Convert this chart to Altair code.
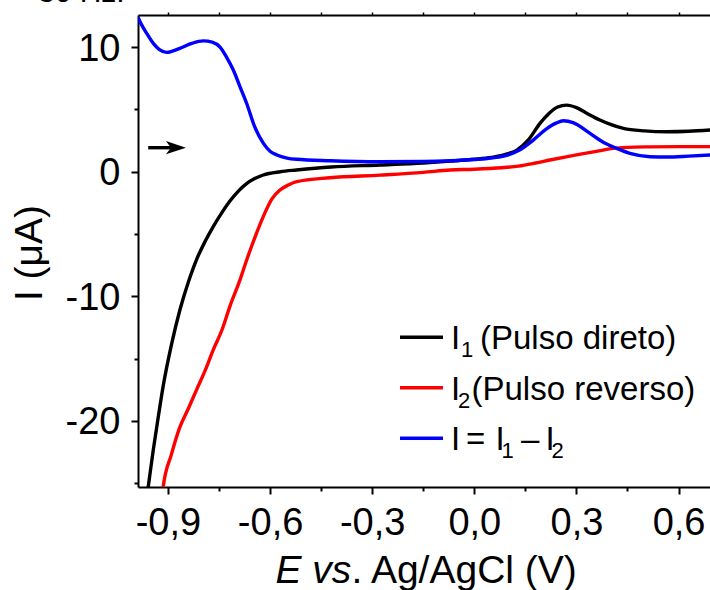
import altair as alt
import pandas as pd

# ---------------- data ----------------
E_I1 = [-0.962, -0.958, -0.943, -0.928, -0.914, -0.889, -0.865, -0.840, -0.816, -0.791,
        -0.767, -0.742, -0.718, -0.693, -0.669, -0.645, -0.620, -0.570, -0.522, -0.420, -0.277,
        -0.150, -0.070, 0.000, 0.050, 0.100, 0.125, 0.160, 0.193, 0.220, 0.245,
        0.271, 0.300, 0.330, 0.369, 0.400, 0.438, 0.500, 0.565, 0.630, 0.700]
I1 = [-26.1, -25.3, -22.3, -19.6, -17.2, -13.8, -11.1, -8.85, -7.05, -5.6,
      -4.4, -3.3, -2.35, -1.55, -0.95, -0.55, -0.26, 0.0, 0.14, 0.38, 0.54,
      0.70, 0.85, 1.00, 1.15, 1.45, 1.74, 2.6, 3.88, 4.7, 5.2,
      5.35, 5.15, 4.7, 4.15, 3.8, 3.48, 3.28, 3.21, 3.25, 3.37]

E_I2 = [-0.918, -0.914, -0.890, -0.865, -0.840, -0.816, -0.790, -0.767, -0.740, -0.718,
        -0.690, -0.669, -0.645, -0.620, -0.595, -0.571, -0.545, -0.522, -0.424, -0.277,
        -0.150, -0.071, 0.000, 0.080, 0.130, 0.180, 0.222, 0.270, 0.320, 0.370,
        0.408, 0.450, 0.516, 0.600, 0.700]
I2 = [-27.5, -25.3, -22.7, -20.5, -19.0, -17.5, -15.9, -14.3, -12.6, -10.8,
      -8.8, -7.1, -5.3, -3.6, -2.2, -1.47, -1.05, -0.8, -0.48, -0.27,
      -0.05, 0.14, 0.20, 0.32, 0.45, 0.70, 0.94, 1.2, 1.45, 1.7,
      1.88, 1.96, 2.0, 2.02, 2.02]

E_I = [-0.988, -0.982, -0.960, -0.943, -0.925, -0.904, -0.885, -0.865, -0.830, -0.796,
       -0.770, -0.747, -0.728, -0.708, -0.688, -0.669, -0.645, -0.620, -0.600, -0.580,
       -0.550, -0.522, -0.424, -0.277, -0.150, -0.070, 0.000, 0.050, 0.100, 0.130,
       0.173, 0.210, 0.240, 0.262, 0.290, 0.340, 0.380, 0.418, 0.460, 0.516,
       0.565, 0.630, 0.700]
I_diff = [12.4, 12.04, 11.0, 10.3, 9.8, 9.58, 9.7, 9.9, 10.3, 10.5,
          10.4, 10.0, 9.2, 8.16, 6.8, 5.5, 3.6, 2.3, 1.65, 1.35,
          1.1, 1.0, 0.88, 0.80, 0.82, 0.88, 0.98, 1.1, 1.35, 1.7,
          2.54, 3.4, 3.9, 4.09, 3.95, 3.08, 2.35, 1.88, 1.45, 1.2,
          1.18, 1.25, 1.35]

series_names = ["I1", "I2", "I"]
series_colors = ["#000000", "#ff0000", "#0000ff"]

arrow_E = [-0.958, -0.872]
arrow_I = [1.93, 1.93]
arrow_head_E = [-0.8765]
arrow_head_I = [1.93]

x_tick_values = [-0.9, -0.75, -0.6, -0.45, -0.3, -0.15, 0.0, 0.15, 0.3, 0.45, 0.6]
y_tick_values = [-25, -20, -15, -10, -5, 0, 5, 10]

x_title_italic = "E vs"
x_title_rest = ". Ag/AgCl (V)"
y_title = "I (μA)"
top_note = "30 Hz."

legend_main = ["I", "I", "I"]
legend_sub1 = ["1", "2", "1"]
legend_tail = ["(Pulso direto)", "(Pulso reverso)"]

FONT = "Liberation Sans"

# ---------------- build table ----------------
frames = []
for name, xs, ys in zip(series_names, [E_I1, E_I2, E_I], [I1, I2, I_diff]):
    frames.append(pd.DataFrame({"E": xs, "I": ys, "serie": name}))
df = pd.concat(frames, ignore_index=True)
df["ord"] = df["serie"].map({n: i for i, n in enumerate(series_names)})

xscale = alt.Scale(domain=[-0.988, 0.6924], nice=False, zero=False)
yscale = alt.Scale(domain=[-25.3, 12.58], nice=False, zero=False)

x_label_expr = ("round(datum.value*100) % 30 == 0 ? "
                "(datum.value < -0.001 ? '-' : '') + replace(format(abs(datum.value), '.1f'), '.', ',') : ''")
y_label_expr = ("datum.value % 10 == 0 ? "
                "(datum.value < 0 ? '-' + toString(abs(datum.value)) : toString(datum.value)) : ''")

common_axis = dict(
    domainColor="black", domainWidth=2, tickColor="black", tickWidth=2,
    labelFont=FONT, labelFontSize=38, labelColor="black", grid=False, title=None,
    labelFlush=False, labelOverlap=False,
)

x_axis = alt.Axis(
    values=x_tick_values, labelExpr=x_label_expr, orient="bottom",
    tickSize={"condition": {"test": "round(datum.value*100) % 30 == 0", "value": 7}, "value": 4},
    labelPadding=10, **common_axis,
)
top_axis = alt.Axis(
    values=x_tick_values, labels=False, orient="top", tickSize=3,
    domainColor="black", domainWidth=2, tickColor="black", tickWidth=1.5, grid=False, title=None,
)
y_axis = alt.Axis(
    values=y_tick_values, labelExpr=y_label_expr,
    tickSize={"condition": {"test": "datum.value % 10 == 0", "value": 7}, "value": 4},
    labelPadding=11, labelOffset=2, **common_axis,
)

Y = alt.Y("I:Q", scale=yscale, axis=y_axis)

lines = alt.Chart(df).mark_line(strokeWidth=3.4, interpolate="monotone", clip=True).encode(
    x=alt.X("E:Q", scale=xscale, axis=x_axis),
    y=Y,
    color=alt.Color("serie:N", scale=alt.Scale(domain=series_names, range=series_colors), legend=None),
    detail="serie:N",
    order="ord:Q",
)

top = alt.Chart(pd.DataFrame({"E": [0.0], "I": [0.0]})).mark_point(opacity=0).encode(
    x=alt.X("E:Q", scale=xscale, axis=top_axis),
    y=Y,
)

arrow = alt.Chart(pd.DataFrame({"E": arrow_E, "I": arrow_I})).mark_line(
    color="black", strokeWidth=3.4).encode(
    x=alt.X("E:Q", scale=xscale, axis=None), y=Y)

arrow_head = alt.Chart(pd.DataFrame({"E": arrow_head_E, "I": arrow_head_I})).mark_point(
    shape="M -1 -0.66 L 1 0 L -1 0.66 L -0.5 0 Z", filled=True, size=400, color="black", opacity=1
).encode(x=alt.X("E:Q", scale=xscale, axis=None), y=Y)


def text_at(text, x, y, size, style="normal", angle=0, align="left", baseline="alphabetic"):
    return alt.Chart(pd.DataFrame({"t": [text]})).mark_text(
        font=FONT, fontSize=size, fontStyle=style, angle=angle, align=align,
        baseline=baseline, color="black",
    ).encode(x=alt.value(x), y=alt.value(y), text="t:N")


def rule_at(color, x, x2, y):
    return alt.Chart(pd.DataFrame({"k": [0]})).mark_rule(color=color, strokeWidth=3.4).encode(
        x=alt.value(x), x2=alt.value(x2), y=alt.value(y))


# plot origin is at (138, 15) in the page
OX, OY = 138, 15
layers = [lines, top, arrow, arrow_head]

# legend
legend_y = [337.3, 387.7, 438.3]
legend_base = [349.3, 400.0, 450.0]
for c, ly in zip(series_colors, legend_y):
    layers.append(rule_at(c, 400 - OX, 443 - OX, ly - OY))

LF, SF = 33, 22
layers.append(text_at(legend_main[0], 451 - OX, legend_base[0] - OY, LF))
layers.append(text_at(legend_sub1[0], 461 - OX, legend_base[0] + 7.5 - OY, SF))
layers.append(text_at(legend_tail[0], 480 - OX, legend_base[0] - OY, LF))

layers.append(text_at(legend_main[1], 451 - OX, legend_base[1] - OY, LF))
layers.append(text_at(legend_sub1[1], 458 - OX, legend_base[1] + 7.5 - OY, SF))
layers.append(text_at(legend_tail[1], 471.5 - OX, legend_base[1] - OY, LF))

layers.append(text_at(legend_main[2], 451 - OX, legend_base[2] - OY, LF))
layers.append(text_at("=", 466 - OX, legend_base[2] - OY, LF))
layers.append(text_at("I", 495.5 - OX, legend_base[2] - OY, LF))
layers.append(text_at(legend_sub1[2], 501.5 - OX, legend_base[2] + 7.5 - OY, SF))
layers.append(text_at("–", 521 - OX, legend_base[2] - OY, LF))
layers.append(text_at("I", 545.5 - OX, legend_base[2] - OY, LF))
layers.append(text_at("2", 551.5 - OX, legend_base[2] + 7.5 - OY, SF))

# axis titles
TF = 39
layers.append(text_at(x_title_italic, 275.5 - OX, 583.3 - OY, TF, style="italic"))
layers.append(text_at(x_title_rest, 275.5 + 75.9 - OX, 583.3 - OY, TF))
layers.append(text_at(y_title, 41.7 - OX, 253 - OY, TF, angle=270, align="center"))
layers.append(text_at(top_note, 38 - OX, 2 - OY, 30))

chart = alt.layer(*layers).resolve_axis(x="independent").properties(
    width=572, height=472,
    autosize=alt.AutoSizeParams(type="none"),
    padding={"left": OX, "top": OY, "right": 0, "bottom": 590 - OY - 472},
).configure_view(stroke=None).configure(background="white")

chart.save("out.html", embed_options={"renderer": "svg", "actions": False})
